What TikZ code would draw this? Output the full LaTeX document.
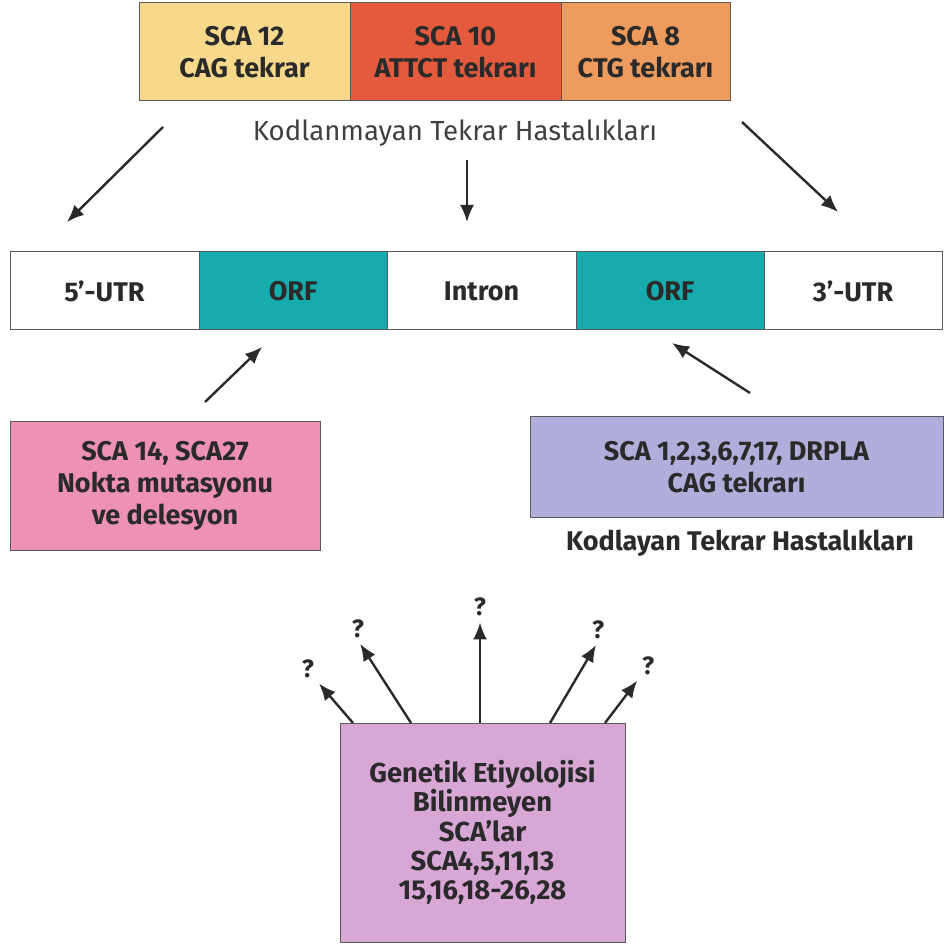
\documentclass[tikz,border=0pt]{standalone}
\usepackage{fontspec}
\setmainfont{Fira Sans}
\usepackage{tikz}
\usetikzlibrary{arrows.meta, positioning}

\definecolor{cagyellow}{HTML}{F8D98C}
\definecolor{attctred}{HTML}{E45A3C}
\definecolor{ctgorange}{HTML}{EE9C5E}
\definecolor{orfteal}{HTML}{16ACAE}
\definecolor{pointpink}{HTML}{EE91B6}
\definecolor{codeblue}{HTML}{B1AEDC}
\definecolor{unkviolet}{HTML}{D8A7D6}
\definecolor{inkdark}{HTML}{2A2A2A}

\begin{document}
\begin{tikzpicture}[
    x=0.5pt, y=-0.5pt,
    cell/.style={rectangle, draw=black!65, line width=0.5pt, inner sep=0pt, align=center,
                 text=inkdark, font=\fontsize{13.5}{16}\selectfont\bfseries},
    lbl/.style={text=inkdark, inner sep=0pt, font=\fontsize{13.8}{16}\selectfont},
    qmark/.style={text=inkdark, inner sep=1pt, font=\fontsize{12.5}{14}\selectfont\bfseries},
    arr/.style={draw=inkdark, line width=1.2pt, -{Latex[length=8.5pt,width=7pt]}}
]
\useasboundingbox (0,0) rectangle (943,945);

% --- Non-coding repeats (top bar) ---
\node[cell, fill=cagyellow, minimum width=105.5pt, minimum height=49pt] (sca12) at (244.5,52) {SCA 12\\CAG tekrar};
\node[cell, fill=attctred,  minimum width=105.5pt, minimum height=49pt] (sca10) at (455.5,52) {SCA 10\\ATTCT tekrarı};
\node[cell, fill=ctgorange, minimum width=84.5pt,  minimum height=49pt] (sca8)  at (645.5,52) {SCA 8\\CTG tekrarı};
\node[lbl, text=black!75] (noncod) at (455,133) {Kodlanmayan Tekrar Hastalıkları};

% --- Gene structure ---
\node[cell, fill=white,   minimum width=94.5pt, minimum height=39pt] (utr5)   at (104.5,291) {5’-UTR};
\node[cell, fill=orfteal, minimum width=94pt,   minimum height=39pt] (orf1)   at (293,291)   {ORF};
\node[cell, fill=white,   minimum width=94.5pt, minimum height=39pt] (intron) at (481.5,291) {Intron};
\node[cell, fill=orfteal, minimum width=94pt,   minimum height=39pt] (orf2)   at (670,291)   {ORF};
\node[cell, fill=white,   minimum width=89pt,   minimum height=39pt] (utr3)   at (853,291)   {3’-UTR};

% --- Point mutations and coding repeats ---
\node[cell, fill=pointpink, minimum width=155pt, minimum height=64pt] (point) at (165,486)
    {SCA 14, SCA27\\Nokta mutasyonu\\ve delesyon};
\node[cell, fill=codeblue, minimum width=206.5pt, minimum height=50pt] (coding) at (736.5,467)
    {SCA 1,2,3,6,7,17, DRPLA\\CAG tekrarı};
\node[lbl, font=\fontsize{13.5}{16}\selectfont\bfseries] (codlbl) at (740,543) {Kodlayan Tekrar Hastalıkları};

% --- Unknown genetics ---
\node[cell, fill=unkviolet, minimum width=142.5pt, minimum height=109.5pt,
      font=\fontsize{13.7}{14.6}\selectfont\bfseries] (unknown) at (482.5,832.5)
    {Genetik Etiyolojisi\\Bilinmeyen\\SCA’lar\\SCA4,5,11,13\\15,16,18-26,28};

\node[qmark] (q1) at (308,669) {?};
\node[qmark] (q2) at (358,629) {?};
\node[qmark] (q3) at (480,607) {?};
\node[qmark] (q4) at (598,630) {?};
\node[qmark] (q5) at (648,666) {?};

% --- Arrow ends ---
\coordinate (t1) at (163,127);  \coordinate (h1) at (67,222);
\coordinate (t2) at (467,160);  \coordinate (h2) at (467,222);
\coordinate (t3) at (742,122);  \coordinate (h3) at (838,212);
\coordinate (t4) at (205,402);  \coordinate (h4) at (262,347);
\coordinate (t5) at (750,393);  \coordinate (h5) at (672,343);
\coordinate (s1) at (353,723);
\coordinate (s2) at (411,723);
\coordinate (s3) at (480,723);
\coordinate (s4) at (550,723);
\coordinate (s5) at (605,723);

\draw[arr] (t1) -- (h1);
\draw[arr] (t2) -- (h2);
\draw[arr] (t3) -- (h3);
\draw[arr] (t4) -- (h4);
\draw[arr] (t5) -- (h5);

\draw[arr, shorten >=2pt] (s1) -- (q1.south east);
\draw[arr, shorten >=2pt] (s2) -- (q2.south);
\draw[arr, shorten >=2pt] (s3) -- (q3.south);
\draw[arr, shorten >=2pt] (s4) -- (q4.south);
\draw[arr, shorten >=2pt] (s5) -- (q5.south west);

\end{tikzpicture}
\end{document}
